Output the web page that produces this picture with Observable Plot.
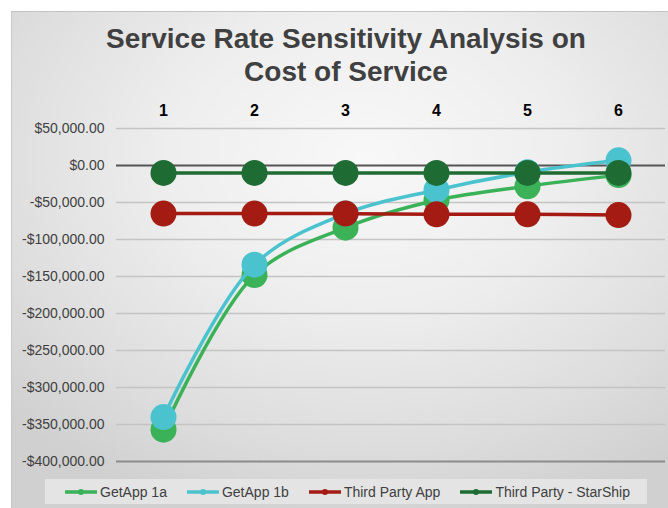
<!DOCTYPE html>
<html>
<head>
<meta charset="utf-8">
<script src="https://cdn.jsdelivr.net/npm/d3@7"></script>
<script src="https://cdn.jsdelivr.net/npm/@observablehq/plot@0.6"></script>
<style>
  body { margin: 0; background: #fff; font-family: "Liberation Sans", Arial, sans-serif; }
  #frame { position: relative; width: 668px; height: 508px; overflow: hidden; }
  #panel {
    position: absolute; left: 11px; top: 11px; width: 680px; height: 520px;
    border-top: 1px solid #c2c2c2; border-left: 1px solid #c8c8c8;
    background: radial-gradient(ellipse 72% 72% at 52% 28%, #f8f8f8 0%, #eeeeee 40%, #dedede 75%, #d0d0d0 100%);
  }
  #title {
    position: absolute; left: 0; top: 22px; width: 692px; text-align: center;
    font-family: "Liberation Sans", Arial, sans-serif;
    font-size: 28px; font-weight: bold; line-height: 33px; color: #404040;
  }
  #chart { position: absolute; left: 0; top: 0; }
  #legend {
    position: absolute; left: 45px; top: 479px; width: 602px; height: 25px;
    background: #e4e4e4; display: flex; align-items: center; box-sizing: border-box;
    padding-left: 20px; gap: 20px; font-size: 14px; color: #404040;
  }
  .item { display: flex; align-items: center; gap: 3px; white-space: nowrap; }
</style>
</head>
<body>
<div id="frame">
  <div id="panel"></div>
  <div id="title">Service Rate Sensitivity Analysis on<br>Cost of Service</div>
  <div id="chart"></div>
  <div id="legend"></div>
</div>
<script>
// Service rate scenarios (top axis)
const categories = [1, 2, 3, 4, 5, 6];

// Cost of service per scenario, in dollars
const getApp1a = [-357000, -148000, -84000, -47000, -28000, -13000];
const getApp1b = [-340000, -134000, -65000, -33000, -9000, 7000];
const thirdPartyApp = [-65000, -65000, -65000, -66000, -66000, -67000];
const thirdPartyStarShip = [-10000, -10000, -10000, -10000, -10000, -10000];

const seriesNames = ["GetApp 1a", "GetApp 1b", "Third Party App", "Third Party - StarShip"];
const seriesValues = [getApp1a, getApp1b, thirdPartyApp, thirdPartyStarShip];
const seriesColors = ["#3bb158", "#4ac3cf", "#a31b13", "#1e6c33"];

// Value axis ticks
const yTicks = [50000, 0, -50000, -100000, -150000, -200000, -250000, -300000, -350000, -400000];

const money = d3.format(",.2f");
const fmtDollar = v => (v < 0 ? "-$" : "$") + money(Math.abs(v));

const series = seriesNames.map((name, i) => ({
  name,
  color: seriesColors[i],
  rows: categories.map((c, j) => ({ category: c, value: seriesValues[i][j] }))
}));

const marks = [
  Plot.ruleY(yTicks.filter(v => v !== 0 && v !== -400000), { stroke: "#c4c4c4", strokeWidth: 1.5 }),
  Plot.ruleY([-400000], { stroke: "#8c8c8c", strokeWidth: 2 }),
  Plot.ruleY([0], { stroke: "#555555", strokeWidth: 2 }),
  Plot.axisY({ ticks: yTicks, tickFormat: fmtDollar, tickSize: 0, tickPadding: 12, fontSize: 14, fill: "#404040", label: null }),
  Plot.axisX({ anchor: "top", tickSize: 0, tickPadding: 13, fontSize: 16, fontWeight: "bold", fill: "#000", label: null })
];
// Smoothed series lines, each drawn with its markers on top
for (const s of series) {
  marks.push(Plot.line(s.rows, { x: "category", y: "value", stroke: s.color, strokeWidth: 3.5, curve: "catmull-rom" }));
  marks.push(Plot.dot(s.rows, { x: "category", y: "value", r: 13, fill: s.color, stroke: "none" }));
}

const plot = Plot.plot({
  width: 668,
  height: 508,
  marginLeft: 116,
  marginRight: 3,
  marginTop: 128,
  marginBottom: 47,
  style: { background: "transparent", fontFamily: "'Liberation Sans', Arial, sans-serif", overflow: "visible" },
  x: { type: "point", domain: categories, padding: 0.5 },
  y: { domain: [-400000, 50000] },
  marks
});
document.getElementById("chart").append(plot);

// Legend
const legend = document.getElementById("legend");
for (const s of series) {
  const item = document.createElement("div");
  item.className = "item";
  item.innerHTML = `<svg width="32" height="10"><line x1="0" y1="5" x2="32" y2="5" stroke="${s.color}" stroke-width="3.5"/><circle cx="16" cy="5" r="3" fill="${s.color}"/></svg><span>${s.name}</span>`;
  legend.append(item);
}
</script>
</body>
</html>
